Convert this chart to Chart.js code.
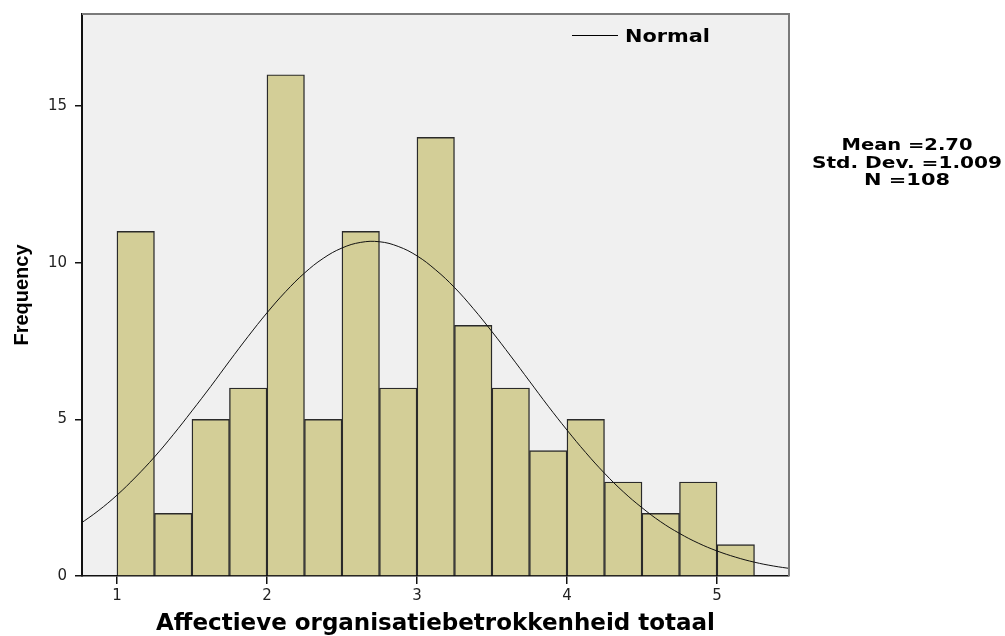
<!DOCTYPE html>
<html>
<head>
<meta charset="utf-8">
<script src="https://cdn.jsdelivr.net/npm/chart.js@4.4.1/dist/chart.umd.min.js"></script>
<style>
  html, body { margin: 0; padding: 0; background: #ffffff; }
  #wrap { width: 1005px; height: 636px; }
</style>
</head>
<body>
<div id="wrap"><canvas id="c" width="1005" height="636"></canvas></div>
<script>
// ---- data ----
const binLowerEdges = [1.00, 1.25, 1.50, 1.75, 2.00, 2.25, 2.50, 2.75, 3.00, 3.25, 3.50, 3.75, 4.00, 4.25, 4.50, 4.75, 5.00];
const binWidth = 0.25;
const frequencies = [11, 2, 5, 6, 16, 5, 11, 6, 14, 8, 6, 4, 5, 3, 2, 3, 1];

const normalX = [0.75, 0.875, 1.0, 1.125, 1.25, 1.375, 1.5, 1.625, 1.75, 1.875, 2.0, 2.125, 2.25, 2.375, 2.5, 2.625, 2.75, 2.875, 3.0, 3.125, 3.25, 3.375, 3.5, 3.625, 3.75, 3.875, 4.0, 4.125, 4.25, 4.375, 4.5, 4.625, 4.75, 4.875, 5.0, 5.125, 5.25, 5.375, 5.5];
const normalY = [1.65, 2.08, 2.58, 3.16, 3.80, 4.51, 5.27, 6.05, 6.86, 7.65, 8.40, 9.08, 9.67, 10.14, 10.47, 10.65, 10.67, 10.52, 10.22, 9.77, 9.21, 8.54, 7.80, 7.02, 6.22, 5.42, 4.66, 3.94, 3.28, 2.69, 2.18, 1.73, 1.36, 1.05, 0.80, 0.60, 0.44, 0.32, 0.23];

const xTicks = [1, 2, 3, 4, 5];
const yTicks = [0, 5, 10, 15];
const xTitle = 'Affectieve organisatiebetrokkenheid totaal';
const yTitle = 'Frequency';
const legendLabel = 'Normal';
const statLines = ['Mean =2.70', 'Std. Dev. =1.009', 'N =108'];

// ---- build datasets ----
const barData = binLowerEdges.map((lo, i) => ({ x: lo + binWidth / 2, y: frequencies[i] }));
const lineData = normalX.map((x, i) => ({ x: x, y: normalY[i] }));

const decorPlugin = {
  id: 'decor',
  beforeDraw(chart) {
    const { ctx, chartArea: a } = chart;
    ctx.save();
    ctx.fillStyle = '#ffffff';
    ctx.fillRect(0, 0, chart.width, chart.height);
    ctx.fillStyle = '#f0f0f0';
    ctx.fillRect(a.left, a.top, a.right - a.left, a.bottom - a.top);
    ctx.restore();
  },
  afterDraw(chart) {
    const { ctx, chartArea: a } = chart;
    ctx.save();
    // top and right frame
    ctx.strokeStyle = '#7a7a7a';
    ctx.lineWidth = 2;
    ctx.beginPath();
    ctx.moveTo(a.left, a.top);
    ctx.lineTo(a.right, a.top);
    ctx.lineTo(a.right, a.bottom);
    ctx.stroke();

    // legend
    ctx.strokeStyle = '#000';
    ctx.lineWidth = 1;
    ctx.beginPath();
    ctx.moveTo(572, 35.5);
    ctx.lineTo(618, 35.5);
    ctx.stroke();
    ctx.fillStyle = '#000';
    ctx.textBaseline = 'middle';
    ctx.font = 'bold 17px "DejaVu Sans"';
    let w = ctx.measureText(legendLabel).width;
    ctx.save();
    ctx.translate(625, 38);
    ctx.scale(85 / w, 1);
    ctx.textAlign = 'left';
    ctx.fillText(legendLabel, 0, 0);
    ctx.restore();

    // statistics
    ctx.font = 'bold 16px "DejaVu Sans"';
    const targetW = [131, 190, 86];
    const ys = [146, 163.5, 181];
    statLines.forEach((t, i) => {
      const mw = ctx.measureText(t).width;
      ctx.save();
      ctx.translate(907, ys[i]);
      ctx.scale(targetW[i] / mw, 1);
      ctx.textAlign = 'center';
      ctx.fillText(t, 0, 0);
      ctx.restore();
    });
    ctx.restore();
  }
};

new Chart(document.getElementById('c'), {
  type: 'bar',
  data: {
    datasets: [
      {
        type: 'line',
        label: legendLabel,
        data: lineData,
        borderColor: '#111',
        borderWidth: 1,
        pointRadius: 0,
        tension: 0.4,
        fill: false,
        order: 0
      },
      {
        type: 'bar',
        label: 'Frequency',
        data: barData,
        backgroundColor: '#d3ce97',
        borderColor: '#2a2a2a',
        borderWidth: 1.4,
        barPercentage: 1.0,
        categoryPercentage: 1.0,
        grouped: false,
        order: 1
      }
    ]
  },
  options: {
    responsive: false,
    animation: false,
    layout: { padding: { left: 0, right: 216, top: 14, bottom: 0 } },
    plugins: {
      legend: { display: false },
      tooltip: { enabled: false }
    },
    scales: {
      x: {
        type: 'linear',
        offset: false,
        min: 0.767,
        max: 5.48,
        afterBuildTicks(scale) { scale.ticks = xTicks.map(v => ({ value: v })); },
        afterFit(scale) { scale.height = 60; scale.paddingLeft = 0; scale.paddingRight = 0; },
        grid: { display: true, offset: false, drawOnChartArea: false, drawTicks: true, tickLength: 8, color: '#111', lineWidth: 1.5 },
        border: { display: true, color: '#111', width: 1.5 },
        ticks: { color: '#222', font: { family: '"DejaVu Sans"', size: 15 }, padding: 3, maxRotation: 0, autoSkip: false },
        title: {
          display: true,
          text: xTitle,
          color: '#000',
          font: { family: '"DejaVu Sans"', size: 23, weight: 'bold', lineHeight: 1.0 },
          padding: { top: 0, bottom: 0 }
        }
      },
      y: {
        type: 'linear',
        min: 0,
        max: 17.94,
        afterBuildTicks(scale) { scale.ticks = yTicks.map(v => ({ value: v })); },
        afterFit(scale) { scale.width = 82; scale.paddingTop = 0; scale.paddingBottom = 0; },
        grid: { display: true, drawOnChartArea: false, drawTicks: true, tickLength: 7, color: '#111', lineWidth: 1.5 },
        border: { display: true, color: '#111', width: 2 },
        ticks: { color: '#222', font: { family: '"DejaVu Sans"', size: 15 }, padding: 8 },
        title: {
          display: true,
          text: yTitle,
          color: '#000',
          font: { family: '"Liberation Sans"', size: 20, weight: 'bold', lineHeight: 1.2 },
          padding: { top: 10, bottom: 0 }
        }
      }
    }
  },
  plugins: [decorPlugin]
});
</script>
</body>
</html>
